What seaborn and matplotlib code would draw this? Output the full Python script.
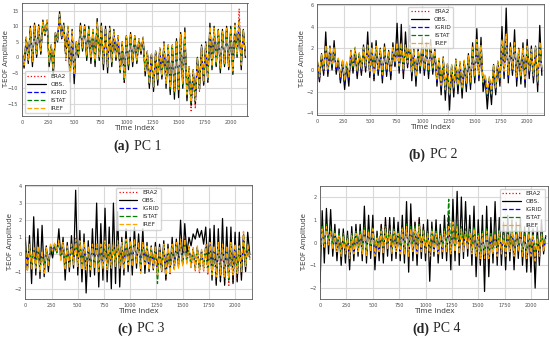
import numpy as np
import matplotlib
matplotlib.use("Agg")
import matplotlib.pyplot as plt
import seaborn as sns

# index de temps (pas de 20)
time_index = list(range(0, 2160, 20))

# PC 1
pc1_era2 = [1.5, -3, 6, -1.5, 9, -2, 10, 0.5, 9.5, 1.5, 11, 7.5, 11.5, -2, 3.5, -4.5, 7.5, 5, 13.5, 6,
            10, -1, 9.5, -6, 8, -6.5, 4.5, 0.5, 10, 2.5, 9.5, 0, 9, -1, 8.5, -1.5, 11, -0.5, 10, -2.5,
            9, -3.5, 9, -2, 8, -0.5, 6.5, -4.5, 4.5, -8.5, 6.5, -3, 7, -2, 6.5, -1.5, 5.5, 1.5, 6, -5,
            1.5, -9, 0.5, -10, 1.5, -8, 2.5, -6.5, 4, -9, 3.5, -11, 3.5, -12, 5, -11.5, 7, -9, 8, -13,
            -4, -17.2, -5, -16.5, -1, -11, 3, -9, 4, -8, 9.5, -3.5, 9, -2.5, 8.5, -4, 8, -2.5, 9, -3.5,
            9, -5, 10, 0.5, 15.7, -3, 8.5, 0]
pc1_obs = [2, -3.5, 6.5, -2, 10, -3, 11, 0, 10.5, 1, 12, 7, 12, -3, 4, -6, 8, 5, 14.7, 6,
           11, 0, 10, -8, 9, -8.5, 5, 0, 11, 2, 10.5, -1, 10, -2, 9, -3, 12.5, -1, 11, -4,
           10, -5, 10, -3, 9, -1, 7, -5, 5, -8, 7, -4, 8, -3, 7, -2, 6, 1, 6.5, -6,
           2, -10, 1, -11, 2, -9, 3, -7, 5, -10, 4, -12, 4, -13.5, 6, -13, 8, -10, 9.5, -14,
           -3, -15.5, -4, -15, 0, -10, 4, -9, 5, -8, 11, -4, 10, -3, 9, -5, 9, -3, 10, -4,
           10, -5.5, 11, 0, 12, -4, 9, 0]
pc1_igrid = [1.5, -2.5, 6, -1, 9, -1.5, 10, 1, 9.5, 2, 11, 7.5, 11.5, -1.5, 3.5, -4, 7.5, 5.5, 13.5, 6.5,
             10, 0, 9.5, -5, 8, -5.5, 4.5, 1, 10, 3, 9.5, 0.5, 9, 0, 8.5, -1, 11, 0, 10, -2,
             9, -3, 9, -1.5, 8, 0, 6.5, -4, 4.5, -7, 6.5, -2.5, 7, -1.5, 6.5, -1, 5.5, 2, 6, -4.5,
             1.5, -8.5, 0.5, -9.5, 1.5, -7.5, 2.5, -6, 4, -8.5, 3.5, -10, 3.5, -11, 5, -10.5, 7, -8.5, 8, -12,
             -3.5, -14.5, -4.5, -14, -0.5, -10, 3, -8, 4, -7, 9.5, -3, 9, -2, 8.5, -3.5, 8, -2, 9, -3,
             9, -4.5, 10, 1, 11.5, -2.5, 8.5, 0.5]
pc1_istat = [1.8, -2.7, 6.2, -1.2, 9.2, -1.7, 10.2, 0.8, 9.7, 1.8, 11.2, 7.3, 11.7, -1.7, 3.7, -4.2, 7.7, 5.3, 13.7, 6.3,
             10.2, -0.2, 9.7, -5.2, 8.2, -5.7, 4.7, 0.8, 10.2, 2.8, 9.7, 0.3, 9.2, -0.2, 8.7, -1.2, 11.2, -0.2, 10.2, -2.2,
             9.2, -3.2, 9.2, -1.7, 8.2, -0.2, 6.7, -4.2, 4.7, -7.2, 6.7, -2.7, 7.2, -1.7, 6.7, -1.2, 5.7, 1.8, 6.2, -4.7,
             1.7, -8.7, 0.7, -9.7, 1.7, -7.7, 2.7, -6.2, 4.2, -8.7, 3.7, -10.2, 3.7, -11.2, 5.2, -10.7, 7.2, -8.7, 8.2, -12.2,
             -3.3, -14.7, -4.3, -14.2, -0.3, -10.2, 3.2, -8.2, 4.2, -7.2, 9.7, -3.2, 9.2, -2.2, 8.7, -3.7, 8.2, -2.2, 9.2, -3.2,
             9.2, -4.7, 10.2, 0.8, 11.7, -2.7, 8.7, 0.3]
pc1_iref = [2.0, -2.4, 6.4, -0.9, 9.4, -1.4, 10.4, 1.1, 9.9, 2.1, 11.4, 7.6, 11.9, -1.4, 3.9, -3.9, 7.9, 5.6, 13.9, 6.6,
            10.4, 0.1, 9.9, -4.9, 8.4, -5.4, 4.9, 1.1, 10.4, 3.1, 9.9, 0.6, 9.4, 0.1, 8.9, -0.9, 11.4, 0.1, 10.4, -1.9,
            9.4, -2.9, 9.4, -1.4, 8.4, 0.1, 6.9, -3.9, 4.9, -6.9, 6.9, -2.4, 7.4, -1.4, 6.9, -0.9, 5.9, 2.1, 6.4, -4.4,
            1.9, -8.4, 0.9, -9.4, 1.9, -7.4, 2.9, -5.9, 4.4, -8.4, 3.9, -9.9, 3.9, -10.9, 5.4, -10.4, 7.4, -8.4, 8.4, -11.9,
            -3.1, -14.4, -4.1, -13.9, -0.1, -9.9, 3.4, -7.9, 4.4, -6.9, 9.9, -2.9, 9.4, -1.9, 8.9, -3.4, 8.4, -1.9, 9.4, -2.9,
            9.4, -4.4, 10.4, 1.1, 11.9, -2.4, 8.9, 0.6]

# PC 2
pc2_era2 = [0.5, -1.0, 1.2, -0.3, 2.0, -0.3, 1.8, 0.2, 1.8, -0.2, 0.8, -1.0, 0.6, -1.4, 0.5, -1.0, 1.5, 0.0, 1.8, -0.5,
            1.3, -0.3, 1.8, 0.0, 2.0, -0.5, 1.8, -0.8, 1.9, -0.3, 1.6, -0.8, 1.8, -0.4, 1.4, -0.6, 1.8, 0.3, 2.2, 0.0,
            2.2, -0.4, 2.0, 0.3, 2.2, -0.6, 1.5, -1.0, 1.5, 0.0, 2.0, -0.3, 1.8, -0.5, 2.0, -0.2, 1.5, -1.2, 0.8, -1.8,
            0.8, -2.2, 0.3, -2.7, 0.2, -2.0, 0.6, -1.8, 0.5, -2.0, 0.6, -1.6, 1.0, -1.5, 1.8, -1.0, 2.5, -0.8, 2.0, -1.5,
            -0.8, -2.8, -1.0, -2.6, 0.2, -2.0, 0.5, -1.2, 2.5, -0.5, 3.0, -0.8, 1.8, -0.3, 2.2, -1.0, 1.6, -0.9, 1.7, -1.2,
            1.9, -0.5, 1.6, -0.9, 1.8, -1.5, 2.3, -0.3]
pc2_obs = [0.8, -1.1, 1.5, -0.5, 3.5, -0.6, 2.2, 0.0, 2.7, -0.4, 1.0, -1.2, 0.8, -1.8, 0.5, -1.5, 1.8, -0.3, 2.0, -0.8,
           1.5, -0.5, 2.3, -0.2, 3.5, -0.7, 2.5, -1.0, 2.7, -0.5, 2.0, -1.2, 2.4, -0.6, 1.8, -0.9, 2.5, 0.3, 4.3, -0.3,
           4.2, -0.8, 3.5, 0.2, 4.1, -1.0, 2.0, -1.5, 2.0, -0.3, 3.0, -0.5, 2.5, -0.8, 2.8, -0.4, 2.0, -1.5, 1.0, -2.3,
           1.2, -2.8, 0.5, -3.7, 0.3, -2.5, 1.0, -2.2, 0.6, -2.6, 0.8, -2.0, 1.5, -1.8, 2.5, -1.2, 3.8, -1.0, 3.0, -2.0,
           -0.8, -3.6, -1.0, -3.2, 0.5, -2.3, 0.8, -1.5, 4.0, -0.8, 5.7, -1.2, 2.5, -0.5, 3.7, -1.5, 2.0, -1.3, 2.5, -1.6,
           2.8, -0.8, 2.2, -1.2, 2.2, -2.0, 4.1, -0.5]
pc2_igrid = [0.7, -0.8, 1.3, -0.1, 2.1, -0.1, 1.9, 0.4, 1.9, 0.0, 0.9, -0.8, 0.7, -1.2, 0.6, -0.8, 1.6, 0.2, 1.9, -0.3,
             1.4, -0.1, 1.9, 0.2, 2.1, -0.3, 1.9, -0.6, 2.0, -0.1, 1.7, -0.6, 1.9, -0.2, 1.5, -0.4, 1.9, 0.5, 2.3, 0.2,
             2.3, -0.2, 2.1, 0.5, 2.3, -0.4, 1.6, -0.8, 1.6, 0.2, 2.1, -0.1, 1.9, -0.3, 2.1, 0.0, 1.6, -1.0, 0.9, -1.6,
             0.9, -2.0, 0.4, -2.5, 0.3, -1.8, 0.7, -1.6, 0.6, -1.8, 0.7, -1.4, 1.1, -1.3, 1.9, -0.8, 2.6, -0.6, 2.1, -1.3,
             -0.6, -2.5, -0.8, -2.4, 0.3, -1.8, 0.6, -1.0, 2.6, -0.3, 3.1, -0.6, 1.9, -0.1, 2.3, -0.8, 1.7, -0.7, 1.8, -1.0,
             2.0, -0.3, 1.7, -0.7, 1.9, -1.3, 2.4, -0.1]
pc2_istat = [0.8, -0.7, 1.4, 0.0, 2.2, 0.0, 2.0, 0.5, 2.0, 0.1, 1.0, -0.7, 0.8, -1.1, 0.7, -0.7, 1.7, 0.3, 2.0, -0.2,
             1.5, 0.0, 2.0, 0.3, 2.2, -0.2, 2.0, -0.5, 2.1, 0.0, 1.8, -0.5, 2.0, -0.1, 1.6, -0.3, 2.0, 0.6, 2.4, 0.3,
             2.4, -0.1, 2.2, 0.6, 2.4, -0.3, 1.7, -0.7, 1.7, 0.3, 2.2, 0.0, 2.0, -0.2, 2.2, 0.1, 1.7, -0.9, 1.0, -1.5,
             1.0, -1.9, 0.5, -2.4, 0.4, -1.7, 0.8, -1.5, 0.7, -1.7, 0.8, -1.3, 1.2, -1.2, 2.0, -0.7, 2.7, -0.5, 2.2, -1.2,
             -0.5, -2.4, -0.7, -2.3, 0.4, -1.7, 0.7, -0.9, 2.7, -0.2, 3.2, -0.5, 2.0, 0.0, 2.4, -0.7, 1.8, -0.6, 1.9, -0.9,
             2.1, -0.2, 1.8, -0.6, 2.0, -1.2, 2.5, 0.0]
pc2_iref = [0.9, -0.6, 1.5, 0.1, 2.3, 0.1, 2.1, 0.6, 2.1, 0.2, 1.1, -0.6, 0.9, -1.0, 0.8, -0.6, 1.8, 0.4, 2.1, -0.1,
            1.6, 0.1, 2.1, 0.4, 2.3, -0.1, 2.1, -0.4, 2.2, 0.1, 1.9, -0.4, 2.1, 0.0, 1.7, -0.2, 2.1, 0.7, 2.5, 0.4,
            2.5, 0.0, 2.3, 0.7, 2.5, -0.2, 1.8, -0.6, 1.8, 0.4, 2.3, 0.1, 2.1, -0.1, 2.3, 0.2, 1.8, -0.8, 1.1, -1.4,
            1.1, -1.8, 0.6, -2.3, 0.5, -1.6, 0.9, -1.4, 0.8, -1.6, 0.9, -1.2, 1.3, -1.1, 2.1, -0.6, 2.8, -0.4, 2.3, -1.1,
            -0.4, -2.3, -0.6, -2.2, 0.5, -1.6, 0.8, -0.8, 2.8, -0.1, 3.3, -0.4, 2.1, 0.1, 2.5, -0.6, 1.9, -0.5, 2.0, -0.8,
            2.2, -0.1, 1.9, -0.5, 2.1, -1.1, 2.6, 0.1]

# PC 3
pc3_era2 = [0.3, -0.9, 0.4, -0.8, 0.2, -0.7, 0.3, -0.9, 0.0, -0.8, 0.2, -0.6, 0.5, 0.2, 0.6, 0.2, 0.8, -0.3, 0.6, -0.8,
            0.3, -0.7, 0.5, -0.5, 1.0, -0.6, 0.8, -0.8, 0.6, -0.9, 0.3, -0.9, 0.5, -0.7, 0.6, -0.9, 0.5, -0.8, 0.8, -0.9,
            0.5, -0.8, 0.7, -0.6, 0.8, -0.7, 0.6, -0.8, 1.0, -0.5, 0.9, -0.7, 1.0, -0.4, 0.6, -0.8, 0.7, -0.5, 0.4, -0.9,
            0.3, -0.8, 0.4, -1.3, 0.3, -1.0, 0.5, -1.4, 0.3, -1.2, 0.5, -0.9, 0.6, -0.7, 0.8, -0.6, 0.9, -0.5, 0.5, -0.8,
            0.3, -1.0, 0.4, -1.1, 0.2, -1.0, 0.5, -1.2, 0.6, -1.3, 0.4, -1.7, 0.6, -1.6, 0.5, -1.7, 0.4, -1.8, 0.6, -1.6,
            0.5, -1.5, 0.4, -1.2, 1.3, -0.8, 0.5, -0.3]
pc3_obs = [1.0, -0.9, 1.1, -1.7, 2.2, -1.2, 1.5, -1.4, 1.7, -1.3, 0.5, -1.0, 0.4, -0.2, 0.6, 0.1, 1.5, -0.3, 1.0, -1.5,
           0.7, -1.0, 1.1, -0.8, 3.75, -1.2, 1.4, -1.6, 1.2, -2.25, 0.8, -1.3, 1.5, -1.2, 3.0, -1.9, 1.8, -1.5, 2.7, -1.6,
           1.6, -2.0, 3.0, -1.7, 2.5, -1.9, 1.0, -1.2, 1.5, -1.0, 1.0, -1.2, 1.6, -0.8, 1.2, -1.0, 1.5, -1.1, 0.7, -1.0,
           0.5, -0.9, 0.7, -1.0, 0.6, -1.0, 0.8, -1.5, 0.6, -1.0, 1.0, -0.8, 0.9, -0.6, 2.0, -0.5, 1.8, 0.0, 1.0, 0.5,
           1.2, 0.9, 1.5, 1.0, 1.4, 0.6, 1.6, -0.8, 1.5, -1.5, 1.7, -1.8, 1.5, -1.6, 2.1, -1.8, 1.6, -1.5, 1.6, -1.7,
           1.3, -1.6, 1.3, -1.5, 1.0, -1.0, 1.3, 0.0]
pc3_igrid = [0.4, -0.7, 0.5, -0.6, 0.3, -0.6, 0.4, -0.7, 0.1, -0.6, 0.3, -0.5, 0.5, 0.2, 0.6, 0.2, 0.7, -0.2, 0.6, -0.6,
             0.4, -0.5, 0.5, -0.4, 0.8, -0.5, 0.7, -0.6, 0.6, -0.7, 0.4, -0.7, 0.5, -0.5, 0.6, -0.7, 0.5, -0.6, 0.7, -0.7,
             0.5, -0.6, 0.6, -0.5, 0.7, -0.5, 0.6, -0.6, 0.8, -0.4, 0.7, -0.5, 0.8, -0.3, 0.6, -0.6, 0.6, -0.4, 0.4, -0.7,
             0.3, -0.6, 0.4, -1.1, 0.3, -0.8, 0.5, -1.1, 0.3, -0.9, 0.5, -0.7, 0.6, -0.6, 0.8, -0.5, 0.8, -0.4, 0.4, -0.6,
             0.3, -0.7, 0.4, -0.8, 0.2, -0.7, 0.5, -0.9, 0.6, -1.0, 0.4, -1.2, 0.6, -1.1, 0.5, -1.2, 0.4, -1.3, 0.6, -1.1,
             0.5, -1.0, 0.4, -0.9, 1.1, -0.6, 0.5, -0.2]
pc3_istat = [0.5, -0.8, 0.5, -0.7, 0.3, -0.7, 0.4, -0.8, 0.1, -0.7, 0.3, -0.6, 0.5, 0.1, 0.6, 0.1, 0.7, -0.3, 0.6, -0.7,
             0.4, -0.6, 0.5, -0.5, 0.8, -0.6, 0.7, -0.7, 0.6, -0.8, 0.4, -0.8, 0.5, -0.6, 0.6, -0.8, 0.5, -0.7, 0.7, -0.8,
             0.5, -0.7, 0.6, -0.6, 0.7, -0.6, 0.6, -0.7, 0.8, -0.5, 0.7, -0.6, 0.8, -0.4, 0.6, -0.7, 0.6, -0.5, 0.4, -0.8,
             0.3, -0.7, 0.4, -1.7, 0.3, -0.9, 0.5, -1.2, 0.3, -1.0, 0.5, -0.8, 0.6, -0.7, 0.8, -0.6, 0.8, -0.5, 0.4, -0.7,
             0.3, -0.8, 0.4, -0.9, 0.2, -0.8, 0.5, -1.0, 0.6, -1.1, 0.4, -1.3, 0.6, -1.2, 0.5, -1.3, 0.4, -1.4, 0.6, -1.2,
             0.5, -1.1, 0.4, -1.0, 1.2, -0.7, 0.5, -0.3]
pc3_iref = [0.5, -1.0, 0.6, -0.9, 0.4, -0.8, 0.5, -1.0, 0.2, -1.1, 0.4, -0.7, 0.6, 0.2, 0.7, 0.2, 0.8, -0.4, 0.7, -0.9,
            0.5, -0.8, 0.6, -0.6, 0.9, -0.7, 0.8, -0.9, 0.7, -0.9, 0.5, -0.9, 0.6, -0.8, 0.7, -1.0, 0.6, -0.8, 0.8, -0.9,
            0.6, -0.8, 0.7, -0.7, 0.8, -0.8, 0.7, -0.9, 0.9, -0.6, 0.8, -0.7, 0.9, -0.5, 0.7, -1.1, 0.7, -0.6, 0.5, -0.9,
            0.4, -0.8, 0.5, -1.2, 0.4, -1.0, 0.6, -1.2, 0.4, -1.1, 0.6, -0.9, 0.7, -0.8, 0.9, -0.7, 0.9, -0.6, 0.5, -0.8,
            0.4, -0.9, 0.5, -1.0, 0.3, -0.9, 0.6, -1.1, 0.7, -1.2, 0.5, -1.3, 0.7, -1.2, 0.6, -1.3, 0.5, -1.4, 0.7, -1.2,
            0.6, -1.1, 0.5, -1.0, 1.35, -0.7, 0.6, -0.3]

# PC 4
pc4_era2 = [-0.3, 0.7, -0.2, 0.8, 0.0, 0.6, -0.2, 0.5, -0.3, 0.4, -0.5, 0.4, -0.4, 0.3, -0.6, 0.4, -0.4, 0.5, -0.3, 0.5,
            -0.4, 0.7, -0.5, 0.6, -0.3, 0.7, -0.6, 0.3, -0.3, 0.8, -0.4, 0.9, -0.2, 0.8, -0.4, 0.6, -0.3, 0.6, -0.5, 0.8,
            -0.4, 0.9, -0.5, 0.8, -0.3, 0.9, -0.4, 1.0, -0.3, 0.7, -0.4, 0.5, -0.5, 0.6, -0.3, 0.5, -0.4, 0.4, -0.3, 0.6,
            -0.4, 0.7, -0.5, 0.6, -0.3, 0.8, -0.4, 0.7, -0.3, 0.5, -0.2, 0.6, -0.5, 0.7, -0.6, 0.4, -0.9, 0.5, -0.8, 0.6,
            -0.9, 0.4, -0.6, 0.5, -0.7, 0.6, -0.5, 0.4, -0.6, 0.5, -0.4, 0.6, -0.7, 0.5, -0.4, 0.6, -0.6, 0.4, -0.8, 0.5,
            -0.6, 0.4, -0.9, 0.3, -0.7, 0.5, -0.4, 0.2]
pc4_obs = [-1.75, 1.4, -0.9, 1.5, -0.5, 1.45, -0.6, 0.8, -0.8, 0.6, -1.0, 0.6, -0.9, 0.5, -1.2, 0.7, -0.8, 0.8, -0.6, 0.8,
           -0.8, 1.6, -0.9, 1.2, -0.7, 1.2, -1.2, 0.5, -0.8, 0.8, -0.9, 1.1, -0.6, 1.1, -0.8, 1.1, -0.7, 0.9, -0.8, 1.2,
           -0.9, 1.8, -1.3, 1.7, -0.8, 0.9, -1.0, 1.1, -0.7, 0.8, -0.8, 1.0, -1.7, 0.9, -0.6, 1.0, -0.9, 0.8, -0.7, 1.2,
           -0.8, 1.2, -1.2, 1.9, -0.8, 2.25, -1.0, 2.0, -0.7, 1.8, -0.6, 1.2, -1.0, 1.6, -1.5, 1.0, -1.0, 1.2, -2.15, 1.6,
           -1.5, 1.1, -0.9, 1.8, -1.0, 1.1, -1.0, 0.9, -1.2, 1.2, -0.8, 1.0, -1.2, 0.9, -0.7, 1.1, -1.0, 0.7, -1.3, 0.8,
           -1.3, 0.6, -2.0, 0.7, -1.0, 1.0, -0.5, 0.3]
pc4_igrid = [-0.2, 0.6, -0.1, 0.7, 0.0, 0.5, -0.2, 0.4, -0.3, 0.3, -0.5, 0.3, -0.4, 0.2, -0.6, 0.3, -0.4, 0.4, -0.3, 0.4,
             -0.4, 0.6, -0.5, 0.5, -0.3, 0.6, -0.5, 0.2, -0.3, 0.5, -0.4, 0.6, -0.2, 0.5, -0.4, 0.5, -0.3, 0.4, -0.4, 0.6,
             -0.4, 0.7, -0.5, 0.6, -0.3, 0.6, -0.4, 0.7, -0.3, 0.5, -0.4, 0.4, -0.5, 0.5, -0.3, 0.4, -0.4, 0.3, -0.3, 0.5,
             -0.3, 0.6, -0.4, 0.8, -0.3, 0.7, -0.4, 0.6, -0.3, 0.5, -0.2, 0.5, -0.4, 0.6, -0.5, 0.3, -0.6, 0.4, -0.6, 0.5,
             -0.6, 0.3, -0.4, 0.4, -0.5, 0.5, -0.4, 0.3, -0.5, 0.4, -0.3, 0.5, -0.5, 0.4, -0.3, 0.5, -0.5, 0.3, -0.6, 0.4,
             -0.5, 0.3, -0.7, 0.2, -0.5, 0.4, -0.3, 0.2]
pc4_istat = [-0.3, 0.7, -0.1, 0.8, 0.1, 0.6, -0.1, 0.5, -0.2, 0.4, -0.4, 0.4, -0.3, 0.3, -0.5, 0.4, -0.3, 0.5, -0.2, 0.5,
             -0.3, 0.7, -0.4, 0.6, -0.2, 0.7, -0.4, 0.3, -0.2, 0.6, -0.3, 0.7, -0.1, 0.6, -0.3, 0.6, -0.2, 0.5, -0.3, 0.7,
             -0.3, 0.8, -0.4, 0.7, -0.2, 0.7, -0.3, 0.8, -0.2, 0.6, -0.3, 0.5, -0.4, 0.6, -0.2, 0.5, -0.3, 0.4, -0.2, 0.6,
             -0.2, 1.9, -0.3, 0.9, -0.2, 0.8, -0.3, 0.7, -0.2, 0.6, -0.1, 0.6, -0.3, 0.7, -0.4, 0.4, -0.5, 0.5, -0.5, 0.6,
             -0.5, 0.4, -0.3, 0.5, -0.4, 0.6, -0.3, 0.4, -0.4, 0.5, -0.2, 0.6, -0.4, 0.5, -0.2, 0.6, -0.4, 0.4, -0.5, 0.5,
             -0.4, 0.4, -0.6, 0.3, -0.4, 0.5, -0.2, 0.3]
pc4_iref = [-0.4, 0.6, -0.2, 0.7, -0.1, 0.5, -0.3, 0.4, -0.4, 0.3, -0.6, 0.3, -0.5, 0.2, -0.7, 0.3, -0.5, 0.4, -0.4, 0.4,
            -0.5, 0.6, -0.6, 0.5, -0.4, 0.6, -0.6, 0.2, -0.4, 0.5, -0.5, 0.6, -0.3, 0.5, -0.5, 0.5, -0.4, 0.4, -0.5, 0.6,
            -0.5, 0.7, -0.6, 0.6, -0.4, 0.6, -0.5, 0.7, -0.4, 0.5, -0.5, 0.4, -0.6, 0.5, -0.4, 0.4, -0.5, 0.3, -0.4, 0.5,
            -0.4, 0.7, -0.5, 0.9, -0.4, 0.7, -0.5, 0.6, -0.4, 0.5, -0.3, 0.5, -0.5, 0.6, -0.6, 0.3, -0.7, 0.4, -0.7, 0.5,
            -0.7, 0.3, -0.5, 0.4, -0.6, 0.5, -0.5, 0.3, -0.6, 0.4, -0.4, 0.5, -0.6, 0.4, -0.4, 0.5, -0.6, 0.3, -0.7, 0.4,
            -0.6, 0.3, -0.8, 0.2, -0.6, 0.4, -0.4, 0.2]

series_names = ["ERA2", "OBS.", "IGRID", "ISTAT", "IREF"]
series_colors = ["red", "black", "blue", "green", "orange"]
series_styles = [":", "-", "--", "--", "--"]

panels = [
    ([pc1_era2, pc1_obs, pc1_igrid, pc1_istat, pc1_iref], (-15, 15, 5), (-18.9, 17.5), "lower left", "(a)", "PC 1"),
    ([pc2_era2, pc2_obs, pc2_igrid, pc2_istat, pc2_iref], (-4, 6, 2), (-4.15, 6.1), "upper center", "(b)", "PC 2"),
    ([pc3_era2, pc3_obs, pc3_igrid, pc3_istat, pc3_iref], (-2, 4, 1), (-2.6, 4.05), "upper center", "(c)", "PC 3"),
    ([pc4_era2, pc4_obs, pc4_igrid, pc4_istat, pc4_iref], (-2, 2, 1), (-2.48, 2.48), "upper right", "(d)", "PC 4"),
]

# positions des axes (fraction de figure)
axes_pos = [
    [0.040, 0.658, 0.410, 0.333],
    [0.577, 0.661, 0.412, 0.328],
    [0.046, 0.118, 0.412, 0.336],
    [0.582, 0.118, 0.414, 0.333],
]
caption_pos = [(0.240, 0.568), (0.777, 0.543), (0.245, 0.030), (0.784, 0.030)]

sns.set_style("whitegrid", {"axes.edgecolor": "0.35", "grid.color": "0.85"})

fig = plt.figure(figsize=(5.5, 3.39), dpi=100)

for (data, yt, ylim, loc, letter, title), pos, cap in zip(panels, axes_pos, caption_pos):
    ax = fig.add_axes(pos)
    for vals, name, col, ls in zip(data, series_names, series_colors, series_styles):
        sns.lineplot(x=time_index, y=vals, ax=ax, color=col, linestyle=ls,
                     linewidth=0.9, label=name)
    ax.set_xlim(0, 2160)
    ax.set_ylim(*ylim)
    ax.set_xticks(range(0, 2001, 250))
    ax.set_yticks(np.arange(yt[0], yt[1] + 0.01, yt[2]))
    ax.tick_params(labelsize=3.5, length=1.5, pad=1.2, colors="0.3")
    ax.set_xlabel("Time Index", fontsize=5.3, labelpad=0.5, color="0.25")
    ax.set_ylabel("T-EOF Amplitude", fontsize=5.0, color="0.25")
    ax.yaxis.set_label_coords(-0.056, 0.5)
    for sp in ax.spines.values():
        sp.set_linewidth(0.6)
    ax.legend(loc=loc, fontsize=4.2, handlelength=3.2, labelspacing=0.5,
              frameon=True, framealpha=0.8, borderpad=0.4)

    fig.text(cap[0] - 0.004, cap[1], letter, fontsize=10, fontweight="bold",
             family="Liberation Serif", ha="right", va="center")
    fig.text(cap[0] + 0.004, cap[1], title, fontsize=10,
             family="Liberation Serif", ha="left", va="center")

fig.savefig("out.png", dpi=100)
